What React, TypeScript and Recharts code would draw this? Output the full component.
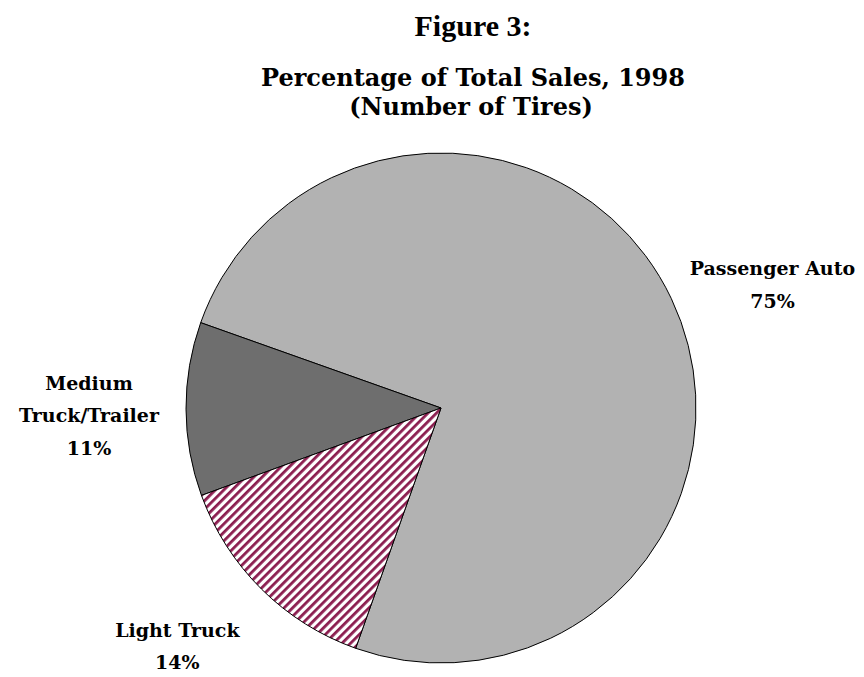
import React from "react";
import { PieChart, Pie, Cell } from "recharts";

const categories = ["Passenger Auto", "Medium Truck/Trailer", "Light Truck"];
const shares = [75, 11, 14];
const labelLines = [["Passenger Auto", "75%"], ["Medium", "Truck/Trailer", "11%"], ["Light Truck", "14%"]];
const titleLines = ["Figure 3:", "Percentage of Total Sales, 1998", "(Number of Tires)"];

const data = categories.map((name, i) => ({ name, value: shares[i], lines: labelLines[i] }));

const fills = ["#b2b2b2", "#6e6e6e", "url(#stripes)"];
const nudges: Record<string, [number, number]> = {
  "Passenger Auto": [10, 20],
  "Medium Truck/Trailer": [4, -20],
  "Light Truck": [-13, -24],
};

const FONT = "'DejaVu Serif', serif";
const TFONT = "'DejaVu Serif', serif";

const renderLabel = (props: any) => {
  const { cx, cy, midAngle, outerRadius, payload, name } = props;
  const RAD = Math.PI / 180;
  const r = outerRadius + 101;
  const [nx, ny] = nudges[name] || [0, 0];
  const x = cx + r * Math.cos(-midAngle * RAD) + nx;
  const y0 = cy + r * Math.sin(-midAngle * RAD) + ny;
  const lines: string[] = payload.lines || (payload.payload && payload.payload.lines) || [name];
  const lh = 32.5;
  return (
    <text x={x} y={y0} textAnchor="middle" fontFamily={FONT} fontWeight="bold" fontSize={19} fill="#000">
      {lines.map((l, i) => (
        <tspan key={i} x={x} y={y0 + i * lh}>{l}</tspan>
      ))}
    </text>
  );
};

export default function App() {
  return (
    <div style={{ width: 856, height: 669, background: "#fff" }}>
      <PieChart width={856} height={669}>
        <defs>
          <pattern id="stripes" patternUnits="userSpaceOnUse" width="6" height="6" patternTransform="rotate(45)">
            <rect x="0" y="0" width="6" height="6" fill="#ffffff" />
            <rect x="0" y="0" width="2.8" height="6" fill="#8b1d4f" />
          </pattern>
        </defs>
        <text x={465} y={28} textAnchor="middle" fontFamily="'Liberation Serif', serif" fontWeight="bold" fontSize={30} fill="#000">{titleLines[0]}</text>
        <text x={465} y={78} textAnchor="middle" fontFamily={TFONT} fontWeight="bold" fontSize={24} fill="#000">{titleLines[1]}</text>
        <text x={463} y={107} textAnchor="middle" fontFamily={TFONT} fontWeight="bold" fontSize={24} fill="#000">{titleLines[2]}</text>
        <Pie
          data={data}
          dataKey="value"
          nameKey="name"
          cx={428}
          cy={395}
          outerRadius={255}
          startAngle={250.45}
          endAngle={610.45}
          stroke="#000"
          strokeWidth={1}
          label={renderLabel}
          labelLine={false}
          isAnimationActive={false}
        >
          {data.map((d, i) => (
            <Cell key={d.name} fill={fills[i]} />
          ))}
        </Pie>
      </PieChart>
    </div>
  );
}
